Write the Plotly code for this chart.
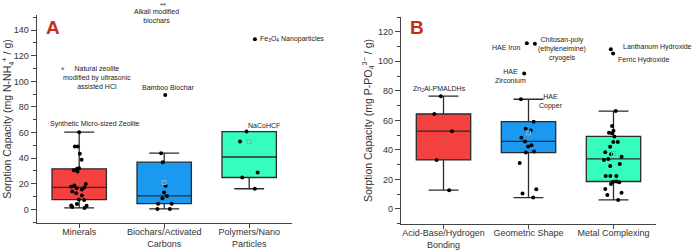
import numpy as np
import plotly.graph_objects as go

# ---------------- data ----------------
cats_A = ["Minerals", "Biochars/Activated<br>Carbons", "Polymers/Nano<br>Particles"]
minerals = [60.3, 49.1, 49.1, 43.4, 38.7, 32.2, 31.7, 30.5, 29.5, 19.8, 18.6, 17.6, 17.1,
            16.4, 15.6, 14.0, 12.5, 10.9, 7.6, 7.3, 4.2, 3.1, 2.9, 1.9, 1.1]
biochars = [43.9, 36.9, 18.5, 13.2, 10.5, 8.6, 4.4, 4.4, 0.3, 0.3, 89.3]
polymers = [60.8, 53.0, 28.8, 24.9, 16.1, 133.0]
zeolite_star = [110.4]      # Natural zeolite (*), Minerals
alkali_star = [159.5]       # Alkali modified biochars (**), Biochars (above the axis top)

cats_B = ["Acid-Base/Hydrogen<br>Bonding", "Geometric Shape", "Metal Complexing"]
acid_base = [76.4, 64.3, 52.7, 33.2, 12.7]
geometric = [74.3, 59.1, 54.3, 53.2, 48.2, 45.7, 43.2, 42.3, 38.9, 38.2, 31.2, 13.4,
             10.4, 7.7, 91.8, 111.8, 112.3]
metal = [66.3, 56.2, 53.0, 51.6, 51.2, 49.1, 45.3, 45.3, 42.2, 38.4, 37.0, 35.4, 33.9,
         33.2, 30.5, 29.1, 22.3, 22.3, 22.3, 18.6, 18.5, 18.0, 16.9, 13.5, 11.0, 9.5, 6.1,
         105.2, 108.2]

yticks_A = [0, 20, 40, 60, 80, 100, 120, 140]
yticks_B = [0, 20, 40, 60, 80, 100, 120]
yrange_A = [-10.9, 152.1]
yrange_B = [-10.4, 130.2]

# ---------------- style ----------------
FONT = "Liberation Sans, Arial, sans-serif"
RED, BLUE, GREEN = "#F4413F", "#1B98F0", "#36FCBE"
MEAN_COL = {RED: "#b06060", BLUE: "#7fb8e0", GREEN: "#70b8a0"}
LINE = "#2b2b2b"
AX = "#444444"
TXT = "#333333"

fig = go.Figure()

def add_box(cat, vals, color, xa, ya, qm):
    fig.add_trace(go.Box(
        x=[cat] * len(vals), y=vals, xaxis=xa, yaxis=ya,
        boxpoints="all", jitter=0.4, pointpos=0, quartilemethod=qm,
        fillcolor=color, line=dict(color=LINE, width=1.3),
        marker=dict(color="black", size=4), width=0.64, whiskerwidth=0.55,
        showlegend=False, hoverinfo="skip"))
    fig.add_trace(go.Scatter(
        x=[cat], y=[float(np.mean(vals))], xaxis=xa, yaxis=ya, mode="markers",
        marker=dict(symbol="square-open", size=4, color=MEAN_COL[color], line=dict(width=1)),
        showlegend=False, hoverinfo="skip"))

add_box(cats_A[0], minerals, RED, "x", "y", "inclusive")
add_box(cats_A[1], biochars, BLUE, "x", "y", "exclusive")
add_box(cats_A[2], polymers, GREEN, "x", "y", "exclusive")
add_box(cats_B[0], acid_base, RED, "x2", "y2", "inclusive")
add_box(cats_B[1], geometric, BLUE, "x2", "y2", "inclusive")
add_box(cats_B[2], metal, GREEN, "x2", "y2", "inclusive")

# asterisk-marked values
fig.add_annotation(text="*", x=0, y=zeolite_star[0], xref="x", yref="y", xshift=-16, yshift=-2,
                   showarrow=False, font=dict(family=FONT, size=9, color="#555555"))
# value lies above the axis range, so place it on the axis-domain scale
alk_dom = (alkali_star[0] - yrange_A[0]) / (yrange_A[1] - yrange_A[0])
fig.add_annotation(text="**", x=1, y=alk_dom, xref="x", yref="y domain", xshift=-1,
                   xanchor="center", yanchor="middle",
                   showarrow=False, font=dict(family=FONT, size=8, color="#333333"))

# ---------------- labels ----------------
def lab(text, x, y, xr, yr, xanchor="center"):
    fig.add_annotation(text=text, x=x, y=y, xref=xr, yref=yr, xanchor=xanchor,
                       yanchor="middle", showarrow=False,
                       font=dict(family=FONT, size=7, color="#222222"))

lab("Synthetic Micro-sized Zeolite", 0.19, 66.6, "x", "y")
lab("Natural zeolite<br>modified by ultrasonic<br>assisted HCl", 0.21, 103.3, "x", "y")
lab("Bamboo Biochar", 1.045, 95.1, "x", "y")
lab("Alkali modified<br>biochars", 0.904, 151.1, "x", "y")
lab("Fe<sub>3</sub>O<sub>4</sub> Nanoparticles", 2.10, 133.0, "x", "y", "left")
lab("NaCoHCF", 2.174, 65.3, "x", "y")

lab("Zn<sub>2</sub>Al-PMALDHs", -0.05, 81.0, "x2", "y2")
lab("HAE Iron", 0.94, 109.2, "x2", "y2", "right")
lab("Chitosan-poly<br>(ethyleneimine)<br>cryogels", 1.39, 108.0, "x2", "y2")
lab("HAE<br>Zirconium", 0.79, 90.2, "x2", "y2")
lab("HAE<br>Copper", 1.26, 73.0, "x2", "y2")
lab("Lanthanum Hydroxide", 2.088, 109.8, "x2", "y2", "left")
lab("Ferric Hydroxide", 2.029, 100.8, "x2", "y2", "left")

for t, xp in (("A", 53.3), ("B", 417.0)):
    fig.add_annotation(text="<b>%s</b>" % t, x=xp / 697, y=(250 - 28.0) / 250,
                       xref="paper", yref="paper", xanchor="center", yanchor="middle",
                       showarrow=False, font=dict(family=FONT, size=19, color="#C62D1F"))

# ---------------- axes ----------------
def xax(domain, cats):
    return dict(domain=domain, type="category", categoryorder="array", categoryarray=cats,
                range=[-0.5, 2.5], showline=True, linecolor=AX, linewidth=1.2,
                ticks="outside", ticklen=4, tickcolor=AX, tickwidth=1, ticklabelstandoff=-4,
                tickfont=dict(family=FONT, size=9, color=TXT), showgrid=False,
                zeroline=False, automargin=False, fixedrange=True)

def yax(domain, rng, ticks, title, anchor):
    return dict(domain=domain, range=rng, anchor=anchor, tickmode="array", tickvals=ticks,
                showline=True, linecolor=AX, linewidth=1.2, ticks="outside", ticklen=5,
                tickcolor=AX, tickwidth=1, showgrid=False, zeroline=False,
                minor=dict(dtick=10, ticks="outside", ticklen=3, tickcolor=AX, tick0=0),
                tickfont=dict(family=FONT, size=9, color=TXT),
                title=dict(text=title, font=dict(family=FONT, size=10.5, color=TXT), standoff=3),
                automargin=False)

fig.update_layout(
    width=697, height=250, autosize=False,
    margin=dict(l=0, r=0, t=0, b=0),
    paper_bgcolor="white", plot_bgcolor="white", boxmode="overlay",
    xaxis=dict(**xax([36.7 / 697, 291.7 / 697], cats_A), anchor="y"),
    yaxis=yax([(250 - 223.3) / 250, (250 - 14.7) / 250], yrange_A, yticks_A,
              "Sorption Capacity (mg N-NH<sub>4</sub><sup>+</sup> / g)", "x"),
    xaxis2=dict(**xax([401.0 / 697, 656.0 / 697], cats_B), anchor="y2"),
    yaxis2=yax([(250 - 224.3) / 250, (250 - 16.7) / 250], yrange_B, yticks_B,
               "Sorption Capacity (mg P-PO<sub>4</sub><sup>3−</sup> / g)", "x2"),
)

fig.write_html("out.html")
